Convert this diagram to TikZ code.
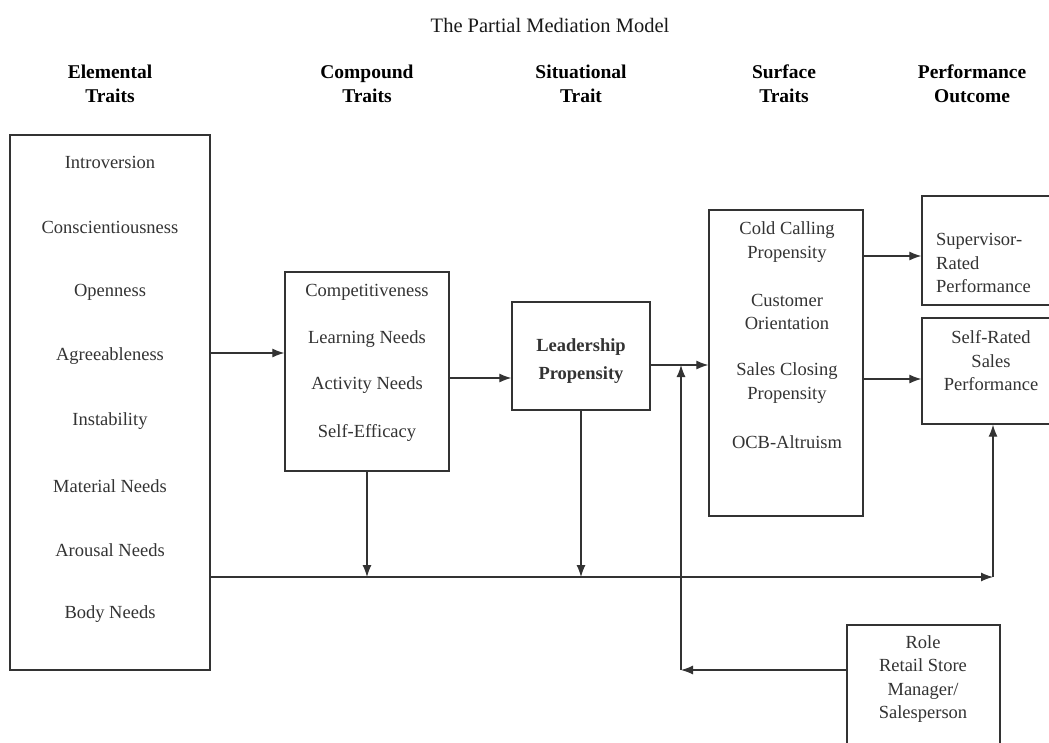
\documentclass[tikz,border=0pt]{standalone}
\usepackage{fontspec}
\setmainfont{Liberation Serif}
\usetikzlibrary{arrows.meta}
\definecolor{ink}{HTML}{333333}
\begin{document}
\begin{tikzpicture}[x=1pt,y=-1pt,
  box/.style={draw=ink,line width=1.3pt,inner sep=0pt,fill=none},
  txt/.style={inner sep=0pt,text=ink,font=\fontsize{18.5}{23.5}\selectfont,align=center},
  head/.style={inner sep=0pt,text=black,font=\bfseries\fontsize{19.5}{24}\selectfont,align=center},
  conn/.style={draw=ink,line width=1.2pt,-{Latex[length=12pt,width=9pt]}},
  line/.style={draw=ink,line width=1.2pt}]
\useasboundingbox (0,0) rectangle (1049,742);
\clip (0,0) rectangle (1049,742);
\fill[white] (0,0) rectangle (1049,742);

% title
\node[inner sep=0pt,text=black!90,font=\fontsize{20.5}{24}\selectfont] (title) at (550,25) {The Partial Mediation Model};

% headers
\node[head] (h1) at (110,84) {Elemental\\Traits};
\node[head] (h2) at (367,84) {Compound\\Traits};
\node[head] (h3) at (581,84) {Situational\\Trait};
\node[head] (h4) at (784,84) {Surface\\Traits};
\node[head] (h5) at (972,84) {Performance\\Outcome};

% boxes
\node[box,minimum width=200pt,minimum height=535pt] (E) at (110,402.5) {};
\node[box,minimum width=164pt,minimum height=199pt] (C) at (367,371.5) {};
\node[box,minimum width=138pt,minimum height=108pt] (L) at (581,356) {};
\node[box,minimum width=154pt,minimum height=306pt] (S) at (786,363) {};
\node[box,minimum width=160pt,minimum height=109pt] (P1) at (1002,250.5) {};
\node[box,minimum width=160pt,minimum height=106pt] (P2) at (1002,371) {};
\node[box,minimum width=153pt,minimum height=150pt] (R) at (923.5,700) {};

% elemental texts
\node[txt] (e1) at (110,162) {Introversion};
\node[txt] (e2) at (110,227) {Conscientiousness};
\node[txt] (e3) at (110,292) {Openness};
\node[txt] (e4) at (110,356) {Agreeableness};
\node[txt] (e5) at (110,421) {Instability};
\node[txt] (e6) at (110,486) {Material Needs};
\node[txt] (e7) at (110,550) {Arousal Needs};
\node[txt] (e8) at (110,614) {Body Needs};

% compound texts
\node[txt] (c1) at (367,292) {Competitiveness};
\node[txt] (c2) at (367,339) {Learning Needs};
\node[txt] (c3) at (367,385) {Activity Needs};
\node[txt] (c4) at (367,433) {Self-Efficacy};

% leadership
\node[txt,font=\bfseries\fontsize{18.5}{28}\selectfont] (l1) at (581,361) {Leadership\\Propensity};

% surface
\node[txt] (s1) at (787,242) {Cold Calling\\Propensity};
\node[txt] (s2) at (787,312) {Customer\\Orientation};
\node[txt] (s3) at (787,383) {Sales Closing\\Propensity};
\node[txt] (s4) at (787,442) {OCB-Altruism};

% performance
\node[txt,align=left,anchor=west] (p1) at (936,263) {Supervisor-\\Rated\\Performance};
\node[txt] (p2) at (991,361) {Self-Rated\\Sales\\Performance};

% role
\node[txt] (r1) at (923,679) {Role\\Retail Store\\Manager/\\Salesperson};

% junction coordinates
\coordinate (jE) at (E.east |- 0,577);
\coordinate (jR) at (993,577);
\coordinate (jC) at (C.south |- 0,577);
\coordinate (jL) at (L.south |- 0,577);
\coordinate (jRole) at (681,670);
\coordinate (jLS) at (681,365);

% connectors
\draw[conn] (E.east |- 0,353) -- (C.west |- 0,353);
\draw[conn] (C.east |- 0,378) -- (L.west |- 0,378);
\draw[conn] (L.east |- 0,365) -- (S.west |- 0,365);
\draw[conn] (S.east |- 0,256) -- (P1.west |- 0,256);
\draw[conn] (S.east |- 0,379) -- (P2.west |- 0,379);
\draw[conn] (C.south) -- (jC);
\draw[conn] (L.south) -- (jL);
\draw[conn] (jE) -- (jR);
\draw[conn] (jR) -- (jR |- P2.south);
\draw[conn] (R.west |- jRole) -- (jRole);
\draw[conn] (jRole) -- (jLS);
\end{tikzpicture}
\end{document}
